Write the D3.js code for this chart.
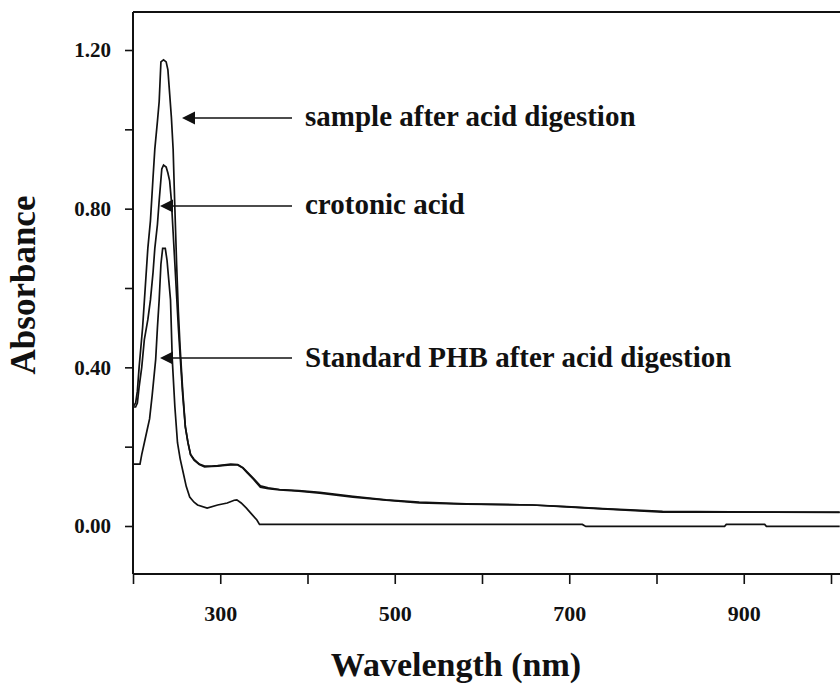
<!DOCTYPE html>
<html><head><meta charset="utf-8">
<script src="https://cdn.jsdelivr.net/npm/d3@7/dist/d3.min.js"></script>
<style>
html,body{margin:0;padding:0;background:#fff;}
svg{display:block;}
text{font-family:"Liberation Serif","Times New Roman",serif;font-weight:bold;fill:#111;}
</style></head>
<body>
<svg id="chart" width="840" height="690"></svg>
<script>
// ---- data ----
const sampleNm  = [200,203,205,207,209,211,214,217,220,223,225,228,230,232,235,238,240,242,244,246,248,250,252,254,257,260,263,266,270,276,282,290,297,305,312,320,326,331,338,346,355,368,390,414,452,490,528,582,658,697,738,807,933,1010];
const sampleAbs = [0.30,0.31,0.34,0.40,0.45,0.50,0.60,0.70,0.77,0.88,0.95,1.02,1.07,1.17,1.175,1.17,1.15,1.09,1.03,0.95,0.80,0.66,0.54,0.45,0.34,0.25,0.21,0.18,0.166,0.155,0.149,0.150,0.151,0.153,0.154,0.154,0.146,0.134,0.118,0.098,0.094,0.091,0.088,0.083,0.073,0.065,0.058,0.055,0.053,0.048,0.043,0.035,0.035,0.034];

const crotonicNm  = [200,203,205,207,210,213,217,220,223,225,228,230,233,235,238,240,242,244,246,248,250,252,254,257,260,263,266,270,276,282,290,297,305,312,320,326,331,338,346,355,368,390,414,452,490,528,582,658,697,738,807,933,1010];
const crotonicAbs = [0.30,0.30,0.31,0.35,0.40,0.47,0.52,0.57,0.64,0.70,0.76,0.82,0.90,0.91,0.905,0.89,0.87,0.82,0.74,0.66,0.58,0.50,0.43,0.33,0.25,0.21,0.18,0.168,0.156,0.151,0.151,0.152,0.154,0.156,0.155,0.147,0.136,0.120,0.101,0.096,0.092,0.089,0.085,0.075,0.066,0.060,0.056,0.053,0.049,0.044,0.037,0.035,0.035];

const phbNm  = [200,208,210,213,216,219,222,226,228,230,232,234,237,239,241,243,245,248,251,254,257,261,265,270,274,285,297,308,316,319,324,330,336,342,345,715,719,878,880,924,926,1010];
const phbAbs = [0.156,0.156,0.18,0.21,0.24,0.27,0.33,0.42,0.50,0.57,0.66,0.70,0.70,0.67,0.62,0.57,0.42,0.30,0.21,0.17,0.14,0.10,0.073,0.06,0.053,0.045,0.053,0.058,0.065,0.066,0.058,0.045,0.03,0.015,0.004,0.004,-0.001,-0.001,0.004,0.004,-0.001,-0.001];

const xTicks = [200,300,400,500,600,700,800,900,1000];
const xTickLabels = {300:"300",500:"500",700:"700",900:"900"};
const yTicks = [0,0.2,0.4,0.6,0.8,1.0,1.2];
const yTickLabels = {0:"0.00",0.4:"0.40",0.8:"0.80",1.2:"1.20"};

const seriesNames = ["sample after acid digestion","crotonic acid","Standard PHB after acid digestion"];
const xTitle = "Wavelength (nm)";
const yTitle = "Absorbance";

// ---- layout ----
const svg = d3.select("#chart");
const L = 133, T = 12, R = 846, B = 574;
const x = d3.scaleLinear().domain([200, 1010]).range([L, L + 810*0.8725]);
const y = d3.scaleLinear().domain([0, 1.2]).range([526, 50]);

svg.append("defs").append("clipPath").attr("id","clip")
  .append("rect").attr("x",L).attr("y",T).attr("width",R-L).attr("height",B-T);

// frame
svg.append("line").attr("x1",L).attr("x2",L).attr("y1",T).attr("y2",B).attr("stroke","#111").attr("stroke-width",2);
svg.append("line").attr("x1",L).attr("x2",R).attr("y1",B).attr("y2",B).attr("stroke","#111").attr("stroke-width",2);
svg.append("line").attr("x1",L).attr("x2",R).attr("y1",T).attr("y2",T).attr("stroke","#111").attr("stroke-width",2);

// axes
const yAxis = d3.axisLeft(y).tickValues(yTicks).tickSize(8).tickPadding(14)
  .tickFormat(d => { const k = Object.keys(yTickLabels).find(v => Math.abs(+v - d) < 1e-9); return k !== undefined ? yTickLabels[k] : ""; });
const gy = svg.append("g").attr("transform",`translate(${L},0)`).call(yAxis);
gy.select(".domain").remove();
gy.selectAll(".tick line").attr("stroke","#111").attr("stroke-width",1.6);
gy.selectAll(".tick text").style("font-size","21px").style("font-family","Liberation Serif, serif").style("font-weight","bold").attr("fill","#111");

const xAxis = d3.axisBottom(x).tickValues(xTicks).tickSize(10).tickPadding(21)
  .tickFormat(d => xTickLabels[d] || "");
const gx = svg.append("g").attr("transform",`translate(0,${B})`).call(xAxis);
gx.select(".domain").remove();
gx.selectAll(".tick line").attr("stroke","#111").attr("stroke-width",1.6);
gx.selectAll(".tick text").style("font-size","22px").style("font-family","Liberation Serif, serif").style("font-weight","bold").attr("fill","#111");

// curves
const line = d3.line().x(d => x(d[0])).y(d => y(d[1])).curve(d3.curveLinear);
const series = [
  d3.zip(phbNm, phbAbs),
  d3.zip(crotonicNm, crotonicAbs),
  d3.zip(sampleNm, sampleAbs)
];
svg.append("g").attr("clip-path","url(#clip)").selectAll("path").data(series).join("path")
  .attr("d", line).attr("fill","none").attr("stroke","#111").attr("stroke-width",1.7)
  .attr("stroke-linejoin","miter");

// annotations
const ann = [
  {tip:[182,118], end:292, tx:305, ty:126, text:seriesNames[0]},
  {tip:[160,206], end:292, tx:305, ty:214, text:seriesNames[1]},
  {tip:[160,358], end:292, tx:305, ty:367, text:seriesNames[2]}
];
const ga = svg.append("g");
ann.forEach(a => {
  ga.append("line").attr("x1",a.tip[0]+8).attr("x2",a.end).attr("y1",a.tip[1]).attr("y2",a.tip[1])
    .attr("stroke","#111").attr("stroke-width",1.6);
  ga.append("path").attr("d",`M${a.tip[0]},${a.tip[1]} L${a.tip[0]+13},${a.tip[1]-6.5} L${a.tip[0]+13},${a.tip[1]+6.5} Z`)
    .attr("fill","#111");
  ga.append("text").attr("x",a.tx).attr("y",a.ty).style("font-size","29px").text(a.text);
});

// titles
svg.append("text").attr("transform","translate(35,285) rotate(-90)").attr("text-anchor","middle")
  .style("font-size","35px").text(yTitle);
svg.append("text").attr("x",456).attr("y",676).attr("text-anchor","middle")
  .style("font-size","34px").text(xTitle);
</script>
</body></html>
